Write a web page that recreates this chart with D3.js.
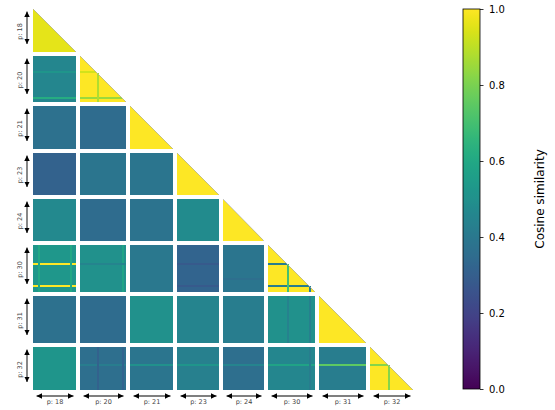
<!DOCTYPE html>
<html>
<head>
<meta charset="utf-8">
<script src="https://cdn.jsdelivr.net/npm/d3@7/dist/d3.min.js"></script>
<style>
  html, body { margin: 0; padding: 0; background: #fff; }
  svg { display: block; font-family: "DejaVu Sans", sans-serif; }
</style>
</head>
<body>
<svg id="chart" width="555" height="410"></svg>
<script>
// Groups (prompt sets) and how many units each one holds
const groups = ["p: 18", "p: 20", "p: 21", "p: 23", "p: 24", "p: 30", "p: 31", "p: 32"];
const groupSizes = [43, 46, 43, 42, 42, 47, 47, 43];

// Mean cosine similarity of each block, lower triangle (row >= col)
const blockMeans = [
  [0.96],
  [0.46, 1.00],
  [0.37, 0.35, 1.00],
  [0.31, 0.39, 0.39, 1.00],
  [0.47, 0.35, 0.38, 0.48, 1.00],
  [0.53, 0.50, 0.40, 0.32, 0.39, 1.00],
  [0.37, 0.35, 0.50, 0.45, 0.42, 0.50, 1.00],
  [0.52, 0.36, 0.39, 0.43, 0.36, 0.46, 0.42, 1.00]
];

// Single units that stand out inside a block: row unit ("h") or column unit ("v"),
// position as a fraction of the group, and its similarity
const stripeRow = [1, 1, 1, 1, 1, 5, 5, 5, 5, 5, 5, 5, 5, 5, 5, 5, 5, 5, 6, 6, 7, 7, 7, 7, 7, 7, 7, 7, 7, 7, 7];
const stripeCol = [0, 0, 1, 1, 1, 0, 0, 0, 0, 1, 1, 3, 3, 5, 5, 5, 5, 4, 5, 5, 1, 1, 1, 2, 3, 4, 5, 6, 7, 7, 5];
const stripeDir = ["h", "h", "h", "h", "v", "h", "h", "v", "v", "v", "h", "h", "h", "h", "h", "v", "v", "h",
                   "v", "v", "h", "v", "v", "h", "h", "h", "h", "h", "h", "v", "v"];
const stripeAt  = [0.33, 0.90, 0.33, 0.90, 0.36, 0.39, 0.85, 0.12, 0.86, 0.91, 0.39, 0.39, 0.85, 0.39, 0.85,
                   0.41, 0.87, 0.70, 0.41, 0.87, 0.39, 0.36, 0.91, 0.39, 0.39, 0.39, 0.39, 0.39, 0.39, 0.42, 0.87];
const stripeVal = [0.52, 0.62, 0.93, 0.85, 0.88, 1.00, 1.00, 0.60, 0.60, 0.58, 0.45, 0.28, 0.28, 0.42, 0.42,
                   0.70, 0.42, 0.36, 0.44, 0.43, 0.42, 0.31, 0.32, 0.50, 0.52, 0.45, 0.58, 0.75, 0.82, 0.82, 0.42];

// Colorbar ticks
const cbarTicks = [0.0, 0.2, 0.4, 0.6, 0.8, 1.0];
const cbarLabel = "Cosine similarity";

const svg = d3.select("#chart");
const gapUnits = 4;

// Cumulative start (in units) of every group along both axes
const starts = [];
let acc = 0;
groupSizes.forEach((s, i) => { starts.push(acc); acc += s + (i < groupSizes.length - 1 ? gapUnits : 0); });
const totalUnits = acc;

const x = d3.scaleLinear().domain([0, totalUnits]).range([33, 413]);
const y = d3.scaleLinear().domain([0, totalUnits]).range([9, 390]);
const color = d3.scaleSequential(d3.interpolateViridis).domain([0, 1]);

const block = (r, c) => ({
  x0: Math.round(x(starts[c])), x1: Math.round(x(starts[c] + groupSizes[c])),
  y0: Math.round(y(starts[r])), y1: Math.round(y(starts[r] + groupSizes[r]))
});

// Blocks
const cells = [];
blockMeans.forEach((row, r) => row.forEach((v, c) => cells.push({ r, c, v })));

const gBlocks = svg.append("g");
gBlocks.selectAll("path.block")
  .data(cells)
  .join("path")
  .attr("class", "block")
  .attr("fill", d => color(d.v))
  .attr("shape-rendering", "crispEdges")
  .attr("d", d => {
    const b = block(d.r, d.c);
    if (d.r === d.c) {
      return `M${b.x0},${b.y0}L${b.x1},${b.y1}L${b.x0},${b.y1}Z`;
    }
    return `M${b.x0},${b.y0}H${b.x1}V${b.y1}H${b.x0}Z`;
  });

// Stripes of single units
const stripes = stripeRow.map((r, i) => ({
  r, c: stripeCol[i], dir: stripeDir[i], at: stripeAt[i], v: stripeVal[i]
}));
const stripeW = 2;

gBlocks.selectAll("rect.stripe")
  .data(stripes)
  .join("rect")
  .attr("class", "stripe")
  .attr("fill", d => color(d.v))
  .attr("shape-rendering", "crispEdges")
  .each(function (d) {
    const b = block(d.r, d.c);
    const sel = d3.select(this);
    if (d.dir === "h") {
      const yy = Math.round(b.y0 + d.at * (b.y1 - b.y0));
      const xEnd = d.r === d.c ? Math.round(b.x0 + d.at * (b.x1 - b.x0)) + 1 : b.x1;
      sel.attr("x", b.x0).attr("y", yy).attr("width", xEnd - b.x0).attr("height", stripeW);
    } else {
      const xx = Math.round(b.x0 + d.at * (b.x1 - b.x0));
      const yStart = d.r === d.c ? Math.round(b.y0 + d.at * (b.y1 - b.y0)) : b.y0;
      sel.attr("x", xx).attr("y", yStart).attr("width", stripeW).attr("height", b.y1 - yStart);
    }
  });

// Soft grey edge along each diagonal block
gBlocks.selectAll("line.diag")
  .data(groups.map((g, i) => i))
  .join("line")
  .attr("class", "diag")
  .each(function (i) {
    const b = block(i, i);
    d3.select(this).attr("x1", b.x0).attr("y1", b.y0).attr("x2", b.x1).attr("y2", b.y1);
  })
  .attr("stroke", "#b0b0a8")
  .attr("stroke-width", 0.9)
  .attr("opacity", 0.8);

// Double-headed arrows with group labels
const defs = svg.append("defs");
defs.append("marker")
  .attr("id", "head")
  .attr("viewBox", "0 0 10 10")
  .attr("refX", 10).attr("refY", 5)
  .attr("markerUnits", "userSpaceOnUse")
  .attr("markerWidth", 5.5).attr("markerHeight", 6.5)
  .attr("orient", "auto-start-reverse")
  .append("path").attr("d", "M0,0L10,5L0,10Z").attr("fill", "#000");

const gLeft = svg.append("g");
groups.forEach((g, i) => {
  const b = block(i, i);
  gLeft.append("line")
    .attr("x1", 27).attr("x2", 27)
    .attr("y1", b.y0 + 2.5).attr("y2", b.y1 - 8)
    .attr("stroke", "#555").attr("stroke-width", 1.4)
    .attr("marker-start", "url(#head)").attr("marker-end", "url(#head)");
  const cy = (b.y0 + b.y1) / 2 + 1;
  gLeft.append("text")
    .attr("transform", `translate(21.5,${cy}) rotate(-90)`)
    .attr("text-anchor", "middle")
    .attr("font-size", 6.5)
    .attr("fill", "#444")
    .text(g);
});

const gBottom = svg.append("g");
groups.forEach((g, i) => {
  const b = block(i, i);
  gBottom.append("line")
    .attr("x1", b.x0 + 3.5).attr("x2", b.x1 - 2.5)
    .attr("y1", 396).attr("y2", 396)
    .attr("stroke", "#555").attr("stroke-width", 1.4)
    .attr("marker-start", "url(#head)").attr("marker-end", "url(#head)");
  gBottom.append("text")
    .attr("x", (b.x0 + b.x1) / 2 + 0.5)
    .attr("y", 403.5)
    .attr("text-anchor", "middle")
    .attr("font-size", 6.5)
    .attr("fill", "#444")
    .text(g);
});

// Colorbar
const cb = { x: 463, w: 17, y0: 9, y1: 389 };
const cy = d3.scaleLinear().domain([0, 1]).range([cb.y1, cb.y0]);
const grad = defs.append("linearGradient")
  .attr("id", "cbar").attr("x1", 0).attr("x2", 0).attr("y1", 1).attr("y2", 0);
d3.range(0, 1.0001, 0.02).forEach(t => {
  grad.append("stop").attr("offset", t).attr("stop-color", color(t));
});
svg.append("rect")
  .attr("x", cb.x).attr("y", cb.y0).attr("width", cb.w).attr("height", cb.y1 - cb.y0)
  .attr("fill", "url(#cbar)")
  .attr("stroke", "#000").attr("stroke-width", 0.8);

const axis = d3.axisRight(cy)
  .tickValues(cbarTicks)
  .tickFormat(d3.format(".1f"))
  .tickSize(3.5)
  .tickPadding(5.5);
const gAxis = svg.append("g")
  .attr("transform", `translate(${cb.x + cb.w},0)`)
  .call(axis);
gAxis.select(".domain").remove();
gAxis.selectAll("text").attr("font-size", 10).attr("fill", "#000")
  .attr("font-family", "DejaVu Sans, sans-serif");
gAxis.selectAll("line").attr("stroke", "#000").attr("stroke-width", 0.8);

svg.append("text")
  .attr("transform", `translate(544,${(cb.y0 + cb.y1) / 2}) rotate(-90)`)
  .attr("text-anchor", "middle")
  .attr("font-size", 12)
  .attr("fill", "#000")
  .text(cbarLabel);
</script>
</body>
</html>
